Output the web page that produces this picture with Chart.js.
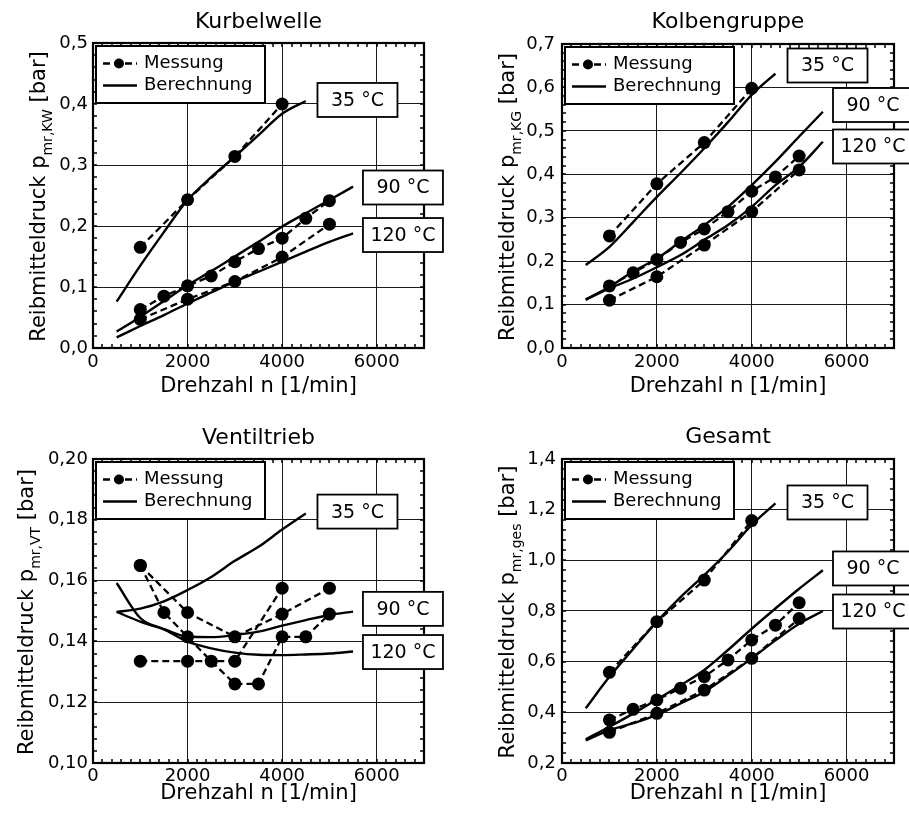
<!DOCTYPE html>
<html><head><meta charset="utf-8">
<script src="https://cdn.jsdelivr.net/npm/chart.js@4.4.1/dist/chart.umd.min.js"></script>
<style>
html,body{margin:0;padding:0;background:#fff;}
#wrap{position:relative;width:909px;height:814px;overflow:hidden;background:#fff;}
canvas{position:absolute;}
</style></head><body>
<div id="wrap">
<canvas id="c1" width="454" height="407" style="left:0;top:0"></canvas>
<canvas id="c2" width="455" height="407" style="left:454px;top:0"></canvas>
<canvas id="c3" width="454" height="407" style="left:0;top:407px"></canvas>
<canvas id="c4" width="455" height="407" style="left:454px;top:407px"></canvas>
</div>
<script>
// ---------- data ----------
const rpmMeas4 = [1000, 2000, 3000, 4000];
const rpmMeas5 = [1000, 2000, 3000, 4000, 5000];
const rpmMeas9 = [1000, 1500, 2000, 2500, 3000, 3500, 4000, 4500, 5000];
const rpmCalc9 = [500, 1000, 1500, 2000, 2500, 3000, 3500, 4000, 4500];
const rpmCalc11 = [500, 1000, 1500, 2000, 2500, 3000, 3500, 4000, 4500, 5000, 5500];

const xTickValues = [0, 2000, 4000, 6000];
const kwTicks = [0, 0.1, 0.2, 0.3, 0.4, 0.5];
const kgTicks = [0, 0.1, 0.2, 0.3, 0.4, 0.5, 0.6, 0.7];
const vtTicks = [0.10, 0.12, 0.14, 0.16, 0.18, 0.20];
const gesTicks = [0.2, 0.4, 0.6, 0.8, 1.0, 1.2, 1.4];

const tempLabels = ['35 °C', '90 °C', '120 °C'];
const legendLabels = ['Messung', 'Berechnung'];

// Kurbelwelle
const kwMeas35 = [0.165, 0.243, 0.314, 0.400];
const kwMeas90 = [0.063, 0.085, 0.102, 0.118, 0.1415, 0.163, 0.180, 0.2126, 0.2415];
const kwMeas120 = [0.047, 0.080, 0.109, 0.149, 0.203];
const kwCalc35 = [0.076, 0.135, 0.190, 0.2426, 0.280, 0.3137, 0.349, 0.3840, 0.405];
const kwCalc90 = [0.027, 0.051, 0.077, 0.103, 0.126, 0.150, 0.174, 0.199, 0.221, 0.2426, 0.2645];
const kwCalc120 = [0.0175, 0.036, 0.054, 0.073, 0.091, 0.1087, 0.125, 0.1415, 0.158, 0.174, 0.188];

// Kolbengruppe
const kgMeas35 = [0.258, 0.378, 0.473, 0.598];
const kgMeas90 = [0.143, 0.173, 0.204, 0.243, 0.274, 0.314, 0.361, 0.394, 0.442];
const kgMeas120 = [0.110, 0.164, 0.237, 0.314, 0.410];
const kgCalc35 = [0.191, 0.233, 0.290, 0.348, 0.403, 0.460, 0.520, 0.583, 0.632];
const kgCalc90 = [0.112, 0.141, 0.176, 0.206, 0.245, 0.283, 0.325, 0.375, 0.429, 0.487, 0.544];
const kgCalc120 = [0.111, 0.137, 0.160, 0.186, 0.214, 0.249, 0.283, 0.325, 0.375, 0.417, 0.475];

// Ventiltrieb
const vtMeas35 = [0.1335, 0.1335, 0.1335, 0.1575];
const vtMeas90 = [0.165, 0.1495, 0.1415, 0.1335, 0.126, 0.126, 0.1415, 0.1415, 0.149];
const vtMeas120 = [0.165, 0.1495, 0.1415, 0.149, 0.1575];
const vtCalc35 = [0.1497, 0.1508, 0.1532, 0.1569, 0.1612, 0.1665, 0.1711, 0.1768, 0.1821];
const vtCalc90 = [0.1497, 0.1465, 0.1440, 0.1416, 0.1414, 0.1421, 0.1432, 0.1452, 0.1470, 0.1487, 0.1498];
const vtCalc120 = [0.1592, 0.1477, 0.1440, 0.1399, 0.1377, 0.1363, 0.1356, 0.1355, 0.1357, 0.1360, 0.1367];

// Gesamt
const gesMeas35 = [0.558, 0.758, 0.922, 1.157];
const gesMeas90 = [0.370, 0.412, 0.449, 0.495, 0.541, 0.607, 0.686, 0.744, 0.833];
const gesMeas120 = [0.321, 0.396, 0.488, 0.613, 0.770];
const gesCalc35 = [0.416, 0.540, 0.650, 0.758, 0.855, 0.942, 1.035, 1.140, 1.225];
const gesCalc90 = [0.2935, 0.343, 0.395, 0.451, 0.507, 0.567, 0.646, 0.730, 0.810, 0.888, 0.961];
const gesCalc120 = [0.289, 0.330, 0.357, 0.3895, 0.435, 0.4815, 0.545, 0.613, 0.684, 0.750, 0.800];

// ---------- drawing ----------
const FONT = "'DejaVu Sans', Verdana, sans-serif";

const decorPlugin = {
  id: 'decor',
  afterDraw(chart, args, o) {
    const ctx = chart.ctx, a = chart.chartArea, x = chart.scales.x, y = chart.scales.y;
    ctx.save();
    // minor ticks (inward, all four sides)
    ctx.strokeStyle = '#000';
    ctx.lineWidth = 1.5;
    ctx.beginPath();
    const nx = Math.round((x.max - x.min) / o.xMinor);
    for (let i = 0; i <= nx; i++) {
      const px = Math.round(x.getPixelForValue(x.min + i * o.xMinor));
      ctx.moveTo(px, a.bottom); ctx.lineTo(px, a.bottom - 4);
      ctx.moveTo(px, a.top); ctx.lineTo(px, a.top + 4);
    }
    const ny = Math.round((y.max - y.min) / o.yMinor);
    for (let i = 0; i <= ny; i++) {
      const py = Math.round(y.getPixelForValue(y.min + i * o.yMinor));
      ctx.moveTo(a.left, py); ctx.lineTo(a.left + 4, py);
      ctx.moveTo(a.right, py); ctx.lineTo(a.right - 4, py);
    }
    ctx.stroke();
    // frame
    ctx.lineWidth = 2.2;
    ctx.strokeRect(a.left, a.top, a.right - a.left, a.bottom - a.top);

    // legend
    const lx = a.left + 3, ly = a.top + 3, lw = 169, lh = 57;
    ctx.fillStyle = '#fff';
    ctx.fillRect(lx, ly, lw, lh);
    ctx.lineWidth = 2;
    ctx.strokeStyle = '#000';
    ctx.strokeRect(lx, ly, lw, lh);
    const r1 = ly + 17.5, r2 = ly + 39.5;
    ctx.beginPath();
    ctx.lineWidth = 2.3;
    ctx.setLineDash([7, 4]);
    ctx.moveTo(lx + 7, r1); ctx.lineTo(lx + 41, r1);
    ctx.stroke();
    ctx.setLineDash([]);
    ctx.fillStyle = '#000';
    ctx.beginPath(); ctx.arc(lx + 23, r1, 5, 0, Math.PI * 2); ctx.fill();
    ctx.lineWidth = 2.6;
    ctx.beginPath(); ctx.moveTo(lx + 7, r2); ctx.lineTo(lx + 41, r2); ctx.stroke();
    ctx.font = '18px ' + FONT;
    ctx.textBaseline = 'middle';
    ctx.textAlign = 'left';
    ctx.fillText(legendLabels[0], lx + 48, r1);
    ctx.fillText(legendLabels[1], lx + 48, r2);

    // temperature label boxes
    ctx.font = '19px ' + FONT;
    ctx.textAlign = 'center';
    o.labels.forEach((L, i) => {
      const cx = x.getPixelForValue(L.x), cy = y.getPixelForValue(L.y);
      const w = 80, h = 34;
      ctx.fillStyle = '#fff';
      ctx.fillRect(cx - w / 2, cy - h / 2, w, h);
      ctx.lineWidth = 1.8;
      ctx.strokeStyle = '#000';
      ctx.strokeRect(cx - w / 2, cy - h / 2, w, h);
      ctx.fillStyle = '#000';
      ctx.fillText(tempLabels[i], cx, cy + 1);
    });

    // y axis title with subscript
    const yc = (a.top + a.bottom) / 2 + 1;
    ctx.translate(o.yTitleX, yc);
    ctx.rotate(-Math.PI / 2);
    ctx.textAlign = 'left';
    ctx.textBaseline = 'alphabetic';
    const m1 = 'Reibmitteldruck p', m2 = ' [bar]';
    ctx.font = '21px ' + FONT;
    const w1 = ctx.measureText(m1).width, w2 = ctx.measureText(m2).width;
    ctx.font = '14px ' + FONT;
    const ws = ctx.measureText(o.sub).width;
    const start = -(w1 + ws + w2) / 2;
    ctx.fillStyle = '#000';
    ctx.font = '21px ' + FONT;
    ctx.fillText(m1, start, 0);
    ctx.fillText(m2, start + w1 + ws, 0);
    ctx.font = '14px ' + FONT;
    ctx.fillText(o.sub, start + w1, 7);
    ctx.restore();
  }
};

function series(xs, ys) { return xs.map((v, i) => ({x: v, y: ys[i]})); }

function makeChart(id, cfg) {
  const ds = [];
  cfg.meas.forEach(([xs, ys]) => ds.push({
    data: series(xs, ys), borderColor: '#000', backgroundColor: '#000',
    borderWidth: 2.3, borderDash: [7, 4], pointRadius: 6.5, pointHoverRadius: 6.5,
    pointBackgroundColor: '#000', pointBorderWidth: 0, tension: 0
  }));
  cfg.calc.forEach(([xs, ys]) => ds.push({
    data: series(xs, ys), borderColor: '#000', backgroundColor: '#000',
    borderWidth: 2.4, pointRadius: 0, cubicInterpolationMode: 'monotone'
  }));
  const tickFont = {family: FONT, size: 18};
  return new Chart(document.getElementById(id), {
    type: 'line',
    data: {datasets: ds},
    options: {
      responsive: false, animation: false, devicePixelRatio: 1,
      events: [],
      layout: {padding: {left: 0, right: cfg.padRight, top: 0, bottom: 0}},
      plugins: {
        legend: {display: false},
        tooltip: {enabled: false},
        title: {display: true, text: cfg.title, fullSize: false, color: '#000',
          font: {family: FONT, size: 22, weight: 'normal'},
          padding: {top: cfg.titleTop, bottom: cfg.titleBottom}},
        decor: {xMinor: 200, yMinor: cfg.yMinor, sub: cfg.sub, yTitleX: cfg.yTitleX, labels: cfg.labels}
      },
      scales: {
        x: {
          type: 'linear', min: 0, max: 7000, bounds: 'data',
          afterBuildTicks: s => { s.ticks = xTickValues.map(v => ({value: v})); },
          afterFit: s => { s.height = cfg.xH; },
          ticks: {callback: v => String(v), color: '#000', font: tickFont, padding: cfg.xPad, maxRotation: 0, autoSkip: false},
          grid: {color: '#1a1a1a', lineWidth: 1, drawTicks: false},
          border: {display: false},
          title: {display: true, text: 'Drehzahl n [1/min]', color: '#000', font: {family: FONT, size: 21}, padding: {top: 0, bottom: 8}}
        },
        y: {
          type: 'linear', min: cfg.yMin, max: cfg.yMax, bounds: 'data',
          afterBuildTicks: s => { s.ticks = cfg.yTicks.map(v => ({value: v})); },
          afterFit: s => { s.width = cfg.yW; },
          ticks: {callback: v => Number(v).toFixed(cfg.dec).replace('.', ','), color: '#000', font: tickFont, padding: cfg.yPad, autoSkip: false},
          grid: {color: '#1a1a1a', lineWidth: 1, drawTicks: false},
          border: {display: false}
        }
      }
    },
    plugins: [decorPlugin]
  });
}

makeChart('c1', {
  title: 'Kurbelwelle', sub: 'mr,KW', yMin: 0, yMax: 0.5, yTicks: kwTicks, dec: 1, yMinor: 0.02,
  padRight: 30, titleTop: 9, titleBottom: 7.6, yW: 93, xH: 59, xPad: 4, yPad: 5, yTitleX: 45,
  meas: [[rpmMeas4, kwMeas35], [rpmMeas9, kwMeas90], [rpmMeas5, kwMeas120]],
  calc: [[rpmCalc9, kwCalc35], [rpmCalc11, kwCalc90], [rpmCalc11, kwCalc120]],
  labels: [{x: 5593, y: 0.4066}, {x: 6555, y: 0.2631}, {x: 6555, y: 0.1852}]
});
makeChart('c2', {
  title: 'Kolbengruppe', sub: 'mr,KG', yMin: 0, yMax: 0.7, yTicks: kgTicks, dec: 1, yMinor: 0.02,
  padRight: 15, titleTop: 9, titleBottom: 8.6, yW: 108, xH: 59, xPad: 4, yPad: 7, yTitleX: 60,
  meas: [[rpmMeas4, kgMeas35], [rpmMeas9, kgMeas90], [rpmMeas5, kgMeas120]],
  calc: [[rpmCalc9, kgCalc35], [rpmCalc11, kgCalc90], [rpmCalc11, kgCalc120]],
  labels: [{x: 5598, y: 0.6505}, {x: 6557, y: 0.5595}, {x: 6557, y: 0.464}]
});
makeChart('c3', {
  title: 'Ventiltrieb', sub: 'mr,VT', yMin: 0.10, yMax: 0.20, yTicks: vtTicks, dec: 2, yMinor: 0.004,
  padRight: 30, titleTop: 18, titleBottom: 7.6, yW: 93, xH: 51, xPad: 2.5, yPad: 5, yTitleX: 33,
  meas: [[rpmMeas4, vtMeas35], [rpmMeas9, vtMeas90], [rpmMeas5, vtMeas120]],
  calc: [[rpmCalc9, vtCalc35], [rpmCalc11, vtCalc90], [rpmCalc11, vtCalc120]],
  labels: [{x: 5593, y: 0.1827}, {x: 6555, y: 0.1507}, {x: 6555, y: 0.1365}]
});
makeChart('c4', {
  title: 'Gesamt', sub: 'mr,ges', yMin: 0.2, yMax: 1.4, yTicks: gesTicks, dec: 1, yMinor: 0.04,
  padRight: 15, titleTop: 17, titleBottom: 8.6, yW: 108, xH: 51, xPad: 2.5, yPad: 6, yTitleX: 60,
  meas: [[rpmMeas4, gesMeas35], [rpmMeas9, gesMeas90], [rpmMeas5, gesMeas120]],
  calc: [[rpmCalc9, gesCalc35], [rpmCalc11, gesCalc90], [rpmCalc11, gesCalc120]],
  labels: [{x: 5598, y: 1.2284}, {x: 6557, y: 0.9679}, {x: 6557, y: 0.798}]
});
</script>
</body></html>
